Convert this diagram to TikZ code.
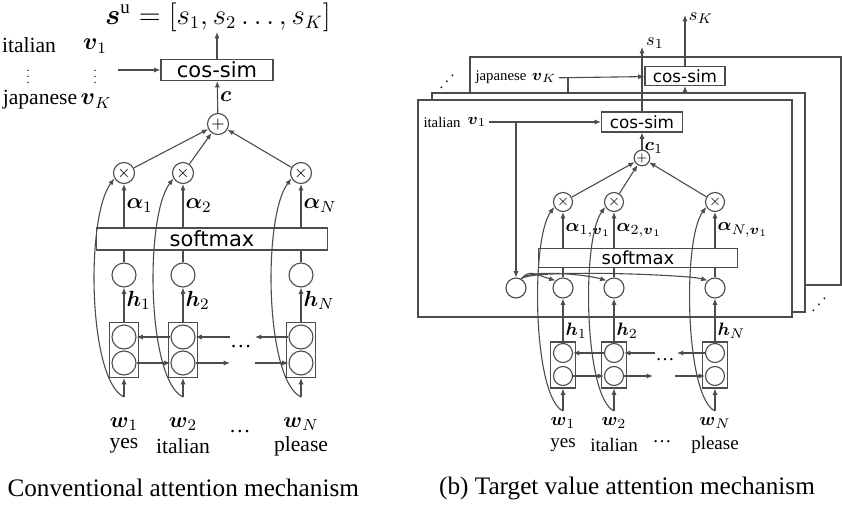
\documentclass[tikz,border=0pt]{standalone}
\usepackage{amsmath}
\usepackage{fontspec}
\setmainfont{Liberation Serif}
\setsansfont{DejaVu Sans}
\usetikzlibrary{arrows.meta}

\newcommand{\bv}[1]{\boldsymbol{#1}}
\newcommand{\vdts}{\vbox{\fontsize{6}{6}\selectfont\baselineskip=3.2pt\lineskiplimit=0pt\hbox{.}\hbox{.}\hbox{.}}}

\begin{document}
\begin{tikzpicture}[x=0.5pt, y=-0.5pt, black!70, line width=0.55pt,
    >={Latex[length=3.2pt,width=2.6pt]},
    every node/.style={text=black},
    lab/.style={font=\fontsize{10.8}{12}\selectfont, inner sep=1pt},
    rlab/.style={font=\fontsize{7.4}{9}\selectfont, inner sep=1pt},
    wlab/.style={font=\fontsize{9.5}{11}\selectfont, inner sep=1pt},
    captext/.style={font=\fontsize{12.6}{14}\selectfont, inner sep=0pt},
    op/.style={circle, draw, minimum size=10.5pt, inner sep=0pt, font=\fontsize{8}{8}\selectfont},
    rop/.style={circle, draw, minimum size=9.5pt, inner sep=0pt, font=\fontsize{7}{7}\selectfont},
    unit/.style={circle, draw, minimum size=12pt, inner sep=0pt},
    runit/.style={circle, draw, minimum size=10pt, inner sep=0pt},
    rsub/.style={circle, draw, minimum size=9.5pt, inner sep=0pt},
    cell/.style={draw, minimum width=14.5pt, minimum height=27.5pt, inner sep=0pt},
    rcell/.style={draw, minimum width=12.5pt, minimum height=23pt, inner sep=0pt},
    func/.style={draw, inner sep=0pt, font=\sffamily\fontsize{10.5}{12}\selectfont},
    rfunc/.style={draw, fill=white, inner sep=0pt, font=\sffamily\fontsize{8.4}{10}\selectfont}]

\useasboundingbox (0,0) rectangle (842,509);

\node[lab, inner sep=0pt, font=\fontsize{13.5}{15}\selectfont] (su) at (218,17) {$\bv{s}^{\mathrm{u}}=[s_1,s_2\ldots,s_K]$};
\node[func, minimum width=56pt, minimum height=10.5pt] (cs) at (217,70) {cos-sim};
\node[op] (add) at (218,124) {$+$};
\node[lab] (it) at (29,45) {italian};
\node[lab, font=\fontsize{11.5}{13}\selectfont] (v1) at (95,46) {$\bv{v}_1$};
\node[lab, inner sep=0pt] (dt1) at (28,77) {\vdts};
\node[lab, inner sep=0pt] (dt2) at (95,77) {\vdts};
\node[lab] (ja) at (40,100) {japanese};
\node[lab, font=\fontsize{11.5}{13}\selectfont] (vK) at (96,101) {$\bv{v}_K$};
\coordinate (vin) at (118,70);
\draw[->] (vin) -- (cs);
\draw[->] (cs.north) -- (cs.north |- su.south);
\draw[->] (add) -- node[lab, right]{$\bv{c}$} (cs);
\node[func, minimum width=115.5pt, minimum height=11pt] (sm) at (212,239) {softmax};

\foreach \i/\x in {1/124, 2/183, N/301}{
  \node[op] (x\i) at (\x,173) {$\times$};
  \node[unit] (h\i) at (\x,275) {};
  \node[cell] (c\i) at (\x,350) {};
  \node[unit] (u\i) at (\x,337) {};
  \node[unit] (d\i) at (\x,363) {};
  \coordinate (i\i) at (\x,397);
  \node[lab] (w\i) at (\x,424) {$\bv{w}_\i$};
  \draw[->] (x\i) -- (add);
  \draw[->] (i\i) -- (c\i);
  \draw[->] (c\i) -- node[lab, right, pos=0.63]{$\bv{h}_\i$} (h\i);
  \draw (h\i) -- (h\i |- sm.south);
  \draw[->] (x\i |- sm.north) -- node[lab, right]{$\bv{\alpha}_\i$} (x\i);
  \draw[->] (i\i) .. controls +(-36,-17) and +(-29,38) .. (x\i.210);
}
\node[lab] (t1) at (124,446) {yes};
\node[lab] (t2) at (183,446) {italian};
\node[lab] (tN) at (301,446) {please};
\node[lab] (el1) at (240,432) {\dots};
\node[lab] (el2) at (241,347) {\dots};
\coordinate (ta) at (230,337);
\coordinate (tb) at (255,337);
\coordinate (ba) at (230,363);
\coordinate (bb) at (255,363);
\draw[->] (u2) -- (u1);
\draw[->] (ta) -- (u2);
\draw[->] (uN) -- (tb);
\draw[->] (d1) -- (d2);
\draw[->] (d2) -- (ba);
\draw[->] (bb) -- (dN);
\node[captext, anchor=west] (capa) at (7,488) {Conventional attention mechanism};

\draw[fill=white] (470,57) rectangle (841,285);
\node[rlab] (jp) at (501,77) {japanese};
\node[rlab, font=\fontsize{8}{9}\selectfont] (vK2) at (544,78) {$\bv{v}_K$};
\node[rfunc, minimum width=40pt, minimum height=9.5pt] (csK) at (685,76) {cos-sim};
\draw[->] (vK2) -- (csK);
\draw (568,77) -- (568,93);
\coordinate (cK) at (685,93);
\coordinate (oK) at (685,15);
\draw[->] (cK) -- (csK);
\draw[->] (csK) -- (oK);
\node[wlab] (sK) at (701,18) {$s_K$};
\node[rlab] (dd1) at (447,76) {\reflectbox{$\ddots$}};
\draw[fill=white] (432,93) rectangle (805,312);
\draw[fill=white] (418,100) rectangle (792,317);
\node[rlab] (dd2) at (819,299) {\reflectbox{$\ddots$}};

\node[rlab] (it2) at (442,122) {italian};
\node[rlab, font=\fontsize{8}{9}\selectfont] (v12) at (477,122) {$\bv{v}_1$};
\node[rfunc, minimum width=40.5pt, minimum height=10pt] (cs1) at (642,122) {cos-sim};
\node[rop, minimum size=7.8pt, font=\fontsize{6.5}{6.5}\selectfont] (add1) at (642,158) {$+$};
\coordinate (b1) at (516,122);
\coordinate (o1) at (642,47);
\draw[->] (v12) -- (cs1);
\draw[->] (add1) -- node[wlab, right, pos=0.1]{$\bv{c}_1$} (cs1);
\draw[->] (cs1) -- (o1);
\node[wlab] (s1) at (655,43) {$s_1$};
\node[runit] (e) at (516,288) {};
\draw[->] (b1) -- (e);
\node[rfunc, fill=none, font=\sffamily\fontsize{9}{10}\selectfont, minimum width=99.5pt, minimum height=9.5pt] (rsm) at (638,258) {softmax};

\foreach \i/\x in {1/563, 2/614, N/715}{
  \node[rop] (rx\i) at (\x,202) {$\times$};
  \node[runit] (rh\i) at (\x,288) {};
  \node[rcell] (rc\i) at (\x,365) {};
  \node[rsub] (ru\i) at (\x,353) {};
  \node[rsub] (rd\i) at (\x,376) {};
  \coordinate (ri\i) at (\x,411);
  \node[wlab] (rw\i) at (\x,423) {$\bv{w}_\i$};
  \draw[->] (rx\i) -- (add1);
  \draw[->] (ri\i) -- (rc\i);
  \draw[->] (rc\i) -- node[wlab, right, pos=0.25]{$\bv{h}_\i$} (rh\i);
  \draw (rh\i) -- (rh\i |- rsm.south);
  \draw[->] (rx\i |- rsm.north) -- node[wlab, right]{$\bv{\alpha}_{\i,\bv{v}_1}$} (rx\i);
  \draw[->] (ri\i) .. controls +(-30,-14) and +(-24,32) .. (rx\i.210);
  \draw[->] (e.60) .. controls +(8,-10) and +(-20,-6) .. (rh\i.135);
}
\node[wlab] (rt1) at (563,445) {yes};
\node[wlab] (rt2) at (614,445) {italian};
\node[wlab] (rtN) at (715,445) {please};
\node[wlab] (rel1) at (662,442) {\dots};
\node[wlab] (rel2) at (665,360) {\dots};
\coordinate (rta) at (655,353);
\coordinate (rtb) at (677,353);
\coordinate (rba) at (653,376);
\coordinate (rbb) at (675,376);
\draw[->] (ru2) -- (ru1);
\draw[->] (rta) -- (ru2);
\draw[->] (ruN) -- (rtb);
\draw[->] (rd1) -- (rd2);
\draw[->] (rd2) -- (rba);
\draw[->] (rbb) -- (rdN);
\node[captext] (capb) at (627,488) {(b) Target value attention mechanism};
\end{tikzpicture}
\end{document}
